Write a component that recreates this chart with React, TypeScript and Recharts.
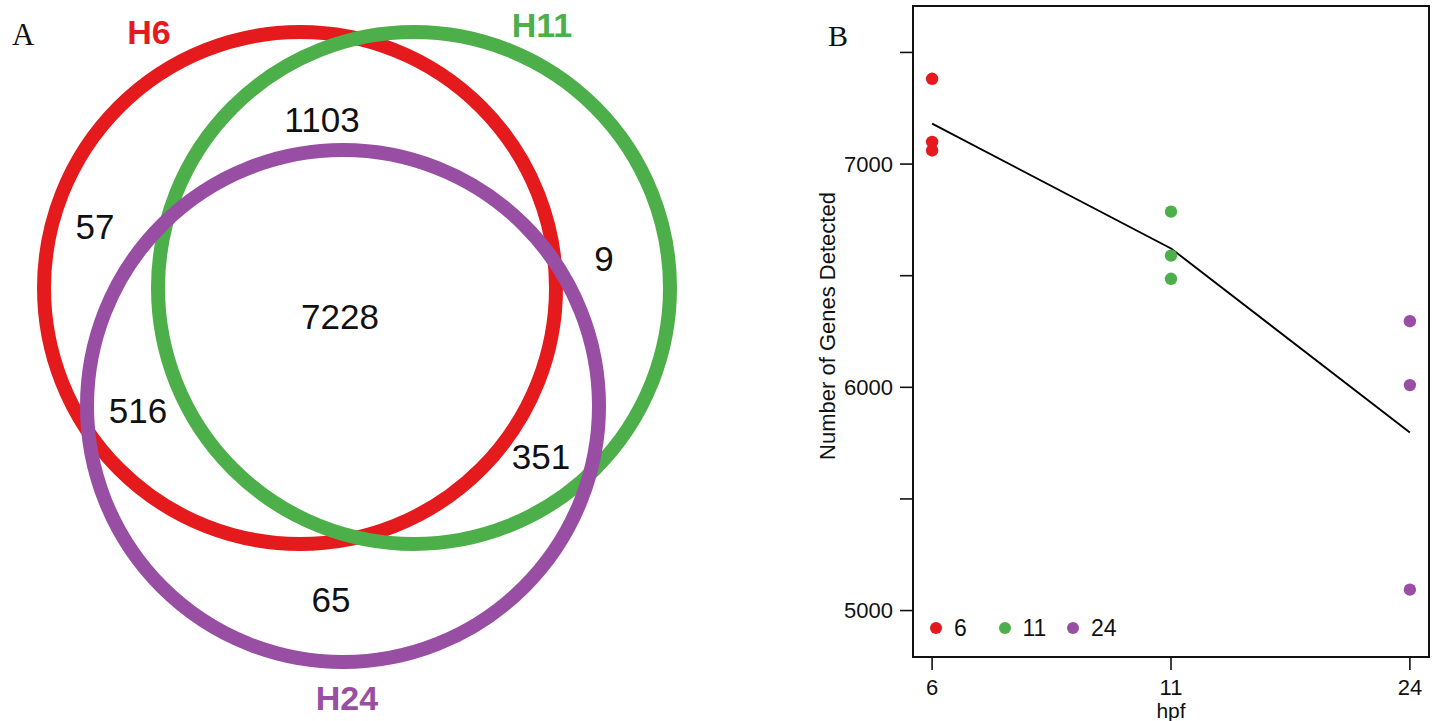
import React from 'react';
import { ScatterChart, Scatter, XAxis, YAxis, Legend, ReferenceArea, Label } from 'recharts';

// ---------- Panel A: Venn diagram ----------
const vennSetNames = ['H6', 'H11', 'H24'];
const vennSetColors = ['#E41A1C', '#4DAF4A', '#984EA3'];
// circle geometry in diagram units
const vennCenterX = [300, 414, 343];
const vennCenterY = [288, 288, 406];
const vennRadius = [256, 256, 256];
const vennSetLabelX = [149, 542, 347];
const vennSetLabelY = [32, 25, 698];

// region counts (H6 only, H6∩H11, H11 only, H6∩H24, all, H11∩H24, H24 only)
const vennRegionCounts = [57, 1103, 9, 516, 7228, 351, 65];
const vennRegionX = [95, 322, 604, 138, 340, 541, 331];
const vennRegionY = [226, 119, 258, 410, 316, 456, 599];

// ---------- Panel B: genes detected ----------
const hpfLabels = ['6', '11', '24'];
const genesH6 = [7382, 7099, 7061];
const genesH11 = [6787, 6590, 6486];
const genesH24 = [6296, 6010, 5094];
const meanGenes = [7181, 6622, 5798];
const yTicks = [5000, 5500, 6000, 6500, 7000, 7500];
const groupColors = ['#E41A1C', '#4DAF4A', '#984EA3'];

const SANS = '"Liberation Sans", Arial, Helvetica, sans-serif';
const SERIF = '"Liberation Serif", "Times New Roman", serif';

const VENN_W = 720;
const VENN_H = 721;
const VENN_DOMAIN_X = 720;
const PX_PER_UNIT = VENN_W / VENN_DOMAIN_X;

const circleData = vennSetNames.map((name, i) => [
  { x: vennCenterX[i], y: vennCenterY[i], r: vennRadius[i], color: vennSetColors[i], name },
]);
const setLabelData = vennSetNames.map((name, i) => ({
  x: vennSetLabelX[i],
  y: vennSetLabelY[i],
  label: name,
  color: vennSetColors[i],
}));
const regionData = vennRegionCounts.map((c, i) => ({
  x: vennRegionX[i],
  y: vennRegionY[i],
  label: String(c),
}));

const CircleShape = (props: any) => {
  const { cx, cy, payload } = props;
  return (
    <circle
      cx={cx}
      cy={cy}
      r={payload.r * PX_PER_UNIT}
      fill="none"
      stroke={payload.color}
      strokeWidth={14}
    />
  );
};

const CountShape = (props: any) => {
  const { cx, cy, payload } = props;
  return (
    <text x={cx} y={cy} dy="0.36em" textAnchor="middle" fontSize={35} fontFamily={SANS} fill="#111">
      {payload.label}
    </text>
  );
};

const SetLabelShape = (props: any) => {
  const { cx, cy, payload } = props;
  return (
    <text
      x={cx}
      y={cy}
      dy="0.36em"
      textAnchor="middle"
      fontSize={34}
      fontWeight="bold"
      fontFamily={SANS}
      fill={payload.color}
    >
      {payload.label}
    </text>
  );
};

const toPoints = (vals: number[], xi: number) => vals.map((v) => ({ x: xi, y: v }));
const meanData = meanGenes.map((v, i) => ({ x: i, y: v }));
const groupData = [toPoints(genesH6, 0), toPoints(genesH11, 1), toPoints(genesH24, 2)];

const DotShape = (props: any) => {
  const { cx, cy, fill } = props;
  return <circle cx={cx} cy={cy} r={6.2} fill={fill} />;
};

const NoShape = () => <g />;

const LegendContent = (props: any) => {
  const items = (props.payload || [])
    .filter((p: any) => p.type !== 'none' && hpfLabels.indexOf(String(p.value)) >= 0)
    .slice()
    .sort((a: any, b: any) => hpfLabels.indexOf(String(a.value)) - hpfLabels.indexOf(String(b.value)));
  return (
    <div style={{ display: 'flex', alignItems: 'center', height: 26 }}>
      {items.map((it: any) => (
        <div key={it.value} style={{ display: 'flex', alignItems: 'center', width: 68.5 }}>
          <svg width={12} height={12} style={{ display: 'block' }}>
            <circle cx={6} cy={6} r={6} fill={it.color} />
          </svg>
          <span
            style={{
              marginLeft: 12,
              fontFamily: SANS,
              fontSize: 23,
              lineHeight: '26px',
              color: '#111',
            }}
          >
            {it.value}
          </span>
        </div>
      ))}
    </div>
  );
};

const B_LEFT = 800;
const Y_DOMAIN: [number, number] = [4792, 7708];
const X_DOMAIN: [number, number] = [-0.08, 2.08];

export default function App() {
  return (
    <div style={{ position: 'relative', width: 1436, height: 721, background: '#fff', overflow: 'hidden' }}>
      <style>{'body{margin:0;}'}</style>

      <div style={{ position: 'absolute', left: 12, top: 20, fontFamily: SERIF, fontSize: 31, lineHeight: '30px', color: '#111' }}>
        A
      </div>
      <div style={{ position: 'absolute', left: 828, top: 21, fontFamily: SERIF, fontSize: 30, lineHeight: '30px', color: '#111' }}>
        B
      </div>

      <div style={{ position: 'absolute', left: 0, top: 0 }}>
        <ScatterChart width={VENN_W} height={VENN_H} margin={{ top: 0, right: 0, bottom: 0, left: 0 }}>
          <XAxis type="number" dataKey="x" domain={[0, VENN_DOMAIN_X]} hide allowDataOverflow />
          <YAxis type="number" dataKey="y" domain={[0, VENN_H]} reversed hide allowDataOverflow />
          {circleData.map((d, i) => (
            <Scatter
              key={vennSetNames[i]}
              name={vennSetNames[i]}
              data={d}
              shape={CircleShape}
              isAnimationActive={false}
            />
          ))}
          <Scatter name="counts" data={regionData} shape={CountShape} isAnimationActive={false} />
          <Scatter name="sets" data={setLabelData} shape={SetLabelShape} isAnimationActive={false} />
        </ScatterChart>
      </div>

      <div style={{ position: 'absolute', left: B_LEFT, top: 0 }}>
        <ScatterChart width={636} height={721} margin={{ top: 6, right: 7, bottom: 0, left: 0 }}>
          <XAxis
            type="number"
            dataKey="x"
            domain={X_DOMAIN}
            ticks={[0, 1, 2]}
            interval={0}
            allowDataOverflow
            tickFormatter={(v: number) => hpfLabels[v] ?? ''}
            axisLine={false}
            tickSize={13}
            tickMargin={9}
            height={64}
            tick={{ fontSize: 22, fill: '#111', fontFamily: SANS }}
            tickLine={{ stroke: '#111', strokeWidth: 1.6 }}
          >
            <Label
              content={(p: any) => {
                const vb = p.viewBox || { x: 0, y: 0, width: 0, height: 0 };
                return (
                  <text x={vb.x + vb.width / 2} y={vb.y + 61} textAnchor="middle" fontSize={21} fontFamily={SANS} fill="#111">
                    hpf
                  </text>
                );
              }}
            />
          </XAxis>
          <YAxis
            type="number"
            dataKey="y"
            domain={Y_DOMAIN}
            ticks={yTicks}
            interval={0}
            allowDataOverflow
            tickFormatter={(v: number) => (v % 1000 === 0 ? String(v) : '')}
            axisLine={false}
            tickSize={13}
            tickMargin={7}
            width={113}
            tick={{ fontSize: 22, fill: '#111', fontFamily: SANS }}
            tickLine={{ stroke: '#111', strokeWidth: 1.6 }}
          >
            <Label
              content={(p: any) => {
                const vb = p.viewBox || { x: 0, y: 0, width: 0, height: 0 };
                const x = vb.x + 35;
                const y = 326;
                return (
                  <text
                    x={x}
                    y={y}
                    transform={`rotate(-90 ${x} ${y})`}
                    textAnchor="middle"
                    fontSize={22}
                    fontFamily={SANS}
                    fill="#111"
                  >
                    Number of Genes Detected
                  </text>
                );
              }}
            />
          </YAxis>
          <ReferenceArea
            x1={X_DOMAIN[0]}
            x2={X_DOMAIN[1]}
            y1={Y_DOMAIN[0]}
            y2={Y_DOMAIN[1]}
            fill="none"
            stroke="#111"
            strokeWidth={2}
            ifOverflow="visible"
          />
          <Scatter
            name="mean"
            data={meanData}
            line={{ stroke: '#000', strokeWidth: 1.9 }}
            shape={NoShape}
            legendType="none"
            isAnimationActive={false}
          />
          {groupData.map((d, i) => (
            <Scatter
              key={hpfLabels[i]}
              name={hpfLabels[i]}
              data={d}
              fill={groupColors[i]}
              shape={DotShape}
              isAnimationActive={false}
            />
          ))}
          <Legend
            verticalAlign="middle"
            align="center"
            itemSorter={null as any}
            content={LegendContent}
            wrapperStyle={{ position: 'absolute', left: 130, top: 615, width: 320, height: 26 }}
          />
        </ScatterChart>
      </div>
    </div>
  );
}
